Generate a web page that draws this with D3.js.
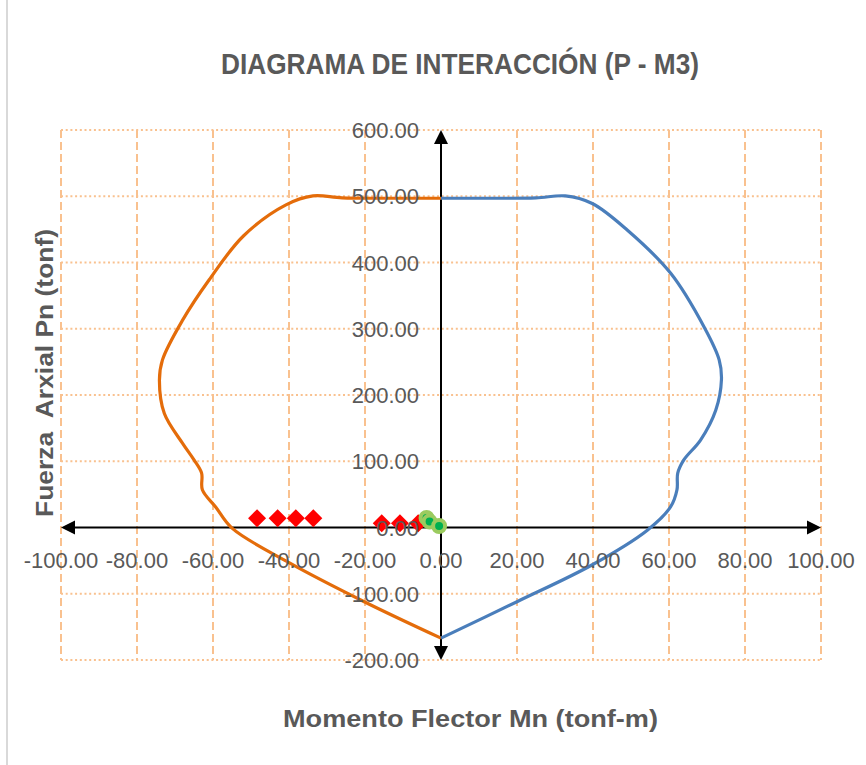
<!DOCTYPE html>
<html><head><meta charset="utf-8">
<script src="https://cdn.jsdelivr.net/npm/d3@7"></script>
<style>
html,body{margin:0;padding:0;background:#fff;}
svg{display:block;font-family:"Liberation Sans",Arial,sans-serif;}
</style></head>
<body><svg id="chart" width="866" height="765"></svg>
<script>
// ---- data ----
const xTicks = [-100,-80,-60,-40,-20,0,20,40,60,80,100];
const yTicks = [-200,-100,0,100,200,300,400,500,600];

// right branch (blue): moment Mn (tonf-m) and axial Pn (tonf)
const mBlue = [0,20,39.7,54.3,60.4,62.1,62.3,63.9,68.3,72.3,73.8,73.2,69.2,60.4,49,39.8,32.7,25,12,0];
const pBlue = [-167,-112,-56.6,-4,31,57,82,102,132,177,223,253,303,384,449,489,500.5,497.5,497,497];

// left branch (orange)
const mOrange = [0,-20.2,-40,-55,-59.3,-62.8,-63,-65,-68,-72.8,-74.1,-73.3,-68,-61,-52,-40.8,-33.7,-26,-12,0];
const pOrange = [-167,-112,-53,-1,31,57,82,102,127,172,222,253,313,374,440,487,500.5,497.5,497,497];

// demand points (red diamonds)
const mDemandA = [-48.4,-43,-38.2,-33.6,-15.6,-10.8,-6.0];
const pDemandA = [14,14,14,14,6.3,6.3,6.3];
// demand points (green circles)
const mDemandB = [-3.8,-3.0,-0.5];
const pDemandB = [14.5,9,2.3];

const titleText = "DIAGRAMA DE INTERACCIÓN (P - M3)";
const xTitle = "Momento Flector Mn (tonf-m)";
const yTitle = "Fuerza  Arxial Pn (tonf)";

// ---- drawing ----
const svg = d3.select("#chart");
const x = d3.scaleLinear().domain([-100,100]).range([61,821]);
const y = d3.scaleLinear().domain([-200,600]).range([660,130]);
const gridColor = "#f9c18f";
const textColor = "#595959";

svg.append("rect").attr("width",866).attr("height",765).attr("fill","#fff");
svg.append("line").attr("x1",7).attr("x2",7).attr("y1",0).attr("y2",765)
  .attr("stroke","#d9d9d9").attr("stroke-width",2);

// gridlines
const g = svg.append("g");
g.selectAll("line.v").data(xTicks.filter(d=>d!==0)).join("line")
  .attr("x1",d=>x(d)).attr("x2",d=>x(d)).attr("y1",y(600)).attr("y2",y(-200))
  .attr("stroke",gridColor).attr("stroke-width",2).attr("stroke-dasharray","8,4");
g.selectAll("line.h").data(yTicks.filter(d=>d!==0)).join("line")
  .attr("x1",x(-100)).attr("x2",x(100)).attr("y1",d=>y(d)).attr("y2",d=>y(d))
  .attr("stroke",gridColor).attr("stroke-width",2).attr("stroke-dasharray","2,2.7");

// axes with arrows
const ax = svg.append("g");
ax.append("line").attr("x1",x(-100)+10).attr("x2",x(100)-10).attr("y1",y(0)).attr("y2",y(0))
  .attr("stroke","#000").attr("stroke-width",2);
ax.append("line").attr("x1",x(0)).attr("x2",x(0)).attr("y1",y(600)+10).attr("y2",y(-200)-10)
  .attr("stroke","#000").attr("stroke-width",2);
const aw = 7, al = 14;
const arrows = [
  [[x(0),y(600)],[x(0)-aw,y(600)+al],[x(0)+aw,y(600)+al]],
  [[x(0),y(-200)],[x(0)-aw,y(-200)-al],[x(0)+aw,y(-200)-al]],
  [[x(-100),y(0)],[x(-100)+al,y(0)-aw],[x(-100)+al,y(0)+aw]],
  [[x(100),y(0)],[x(100)-al,y(0)-aw],[x(100)-al,y(0)+aw]]
];
ax.selectAll("path").data(arrows).join("path")
  .attr("d",d=>"M"+d.map(p=>p.join(",")).join("L")+"Z").attr("fill","#000");

// curves
const line = d3.line().x(d=>x(d[0])).y(d=>y(d[1])).curve(d3.curveCatmullRom.alpha(0.5));
svg.append("path").datum(mOrange.map((m,i)=>[m,pOrange[i]])).attr("d",line)
  .attr("fill","none").attr("stroke","#e46c0a").attr("stroke-width",3.2);
svg.append("path").datum(mBlue.map((m,i)=>[m,pBlue[i]])).attr("d",line)
  .attr("fill","none").attr("stroke","#4a7ebb").attr("stroke-width",3.2);

// demand markers
const sq = d3.symbol().type(d3.symbolSquare).size(162);
svg.selectAll("path.dia").data(mDemandA.map((m,i)=>[m,pDemandA[i]])).join("path")
  .attr("class","dia").attr("d",sq)
  .attr("transform",d=>`translate(${x(d[0])},${y(d[1])}) rotate(45)`)
  .attr("fill","#ff0000");
svg.selectAll("circle.dem").data(mDemandB.map((m,i)=>[m,pDemandB[i]])).join("circle")
  .attr("class","dem").attr("cx",d=>x(d[0])).attr("cy",d=>y(d[1])).attr("r",6)
  .attr("fill","#00b050").attr("stroke","#9bcb5f").attr("stroke-width",4);

// tick labels
const fmt = v => d3.format(".2f")(v).replace("\u2212","-");
svg.selectAll("text.xt").data(xTicks).join("text").attr("class","xt")
  .attr("x",d=>x(d)).attr("y",y(0)+40).attr("text-anchor","middle")
  .attr("font-size",22).attr("fill",textColor).text(d=>fmt(d));
svg.selectAll("text.yt").data(yTicks).join("text").attr("class","yt")
  .attr("x",x(0)-22).attr("y",d=>y(d)+8).attr("text-anchor","end")
  .attr("font-size",22).attr("fill",textColor).text(d=>fmt(d));

// titles
svg.append("text").attr("x",460).attr("y",74).attr("text-anchor","middle")
  .attr("font-size",30).attr("font-weight","bold").attr("fill",textColor)
  .attr("textLength",478).attr("lengthAdjust","spacingAndGlyphs").text(titleText);
svg.append("text").attr("x",470.5).attr("y",727).attr("text-anchor","middle")
  .attr("font-size",23).attr("font-weight","bold").attr("fill",textColor)
  .attr("textLength",375).attr("lengthAdjust","spacingAndGlyphs").text(xTitle);
svg.append("text").attr("transform","translate(53,373) rotate(-90)").attr("text-anchor","middle")
  .attr("font-size",23).attr("font-weight","bold").attr("fill",textColor)
  .style("white-space","pre")
  .attr("textLength",288).attr("lengthAdjust","spacingAndGlyphs").text(yTitle);
</script></body></html>
